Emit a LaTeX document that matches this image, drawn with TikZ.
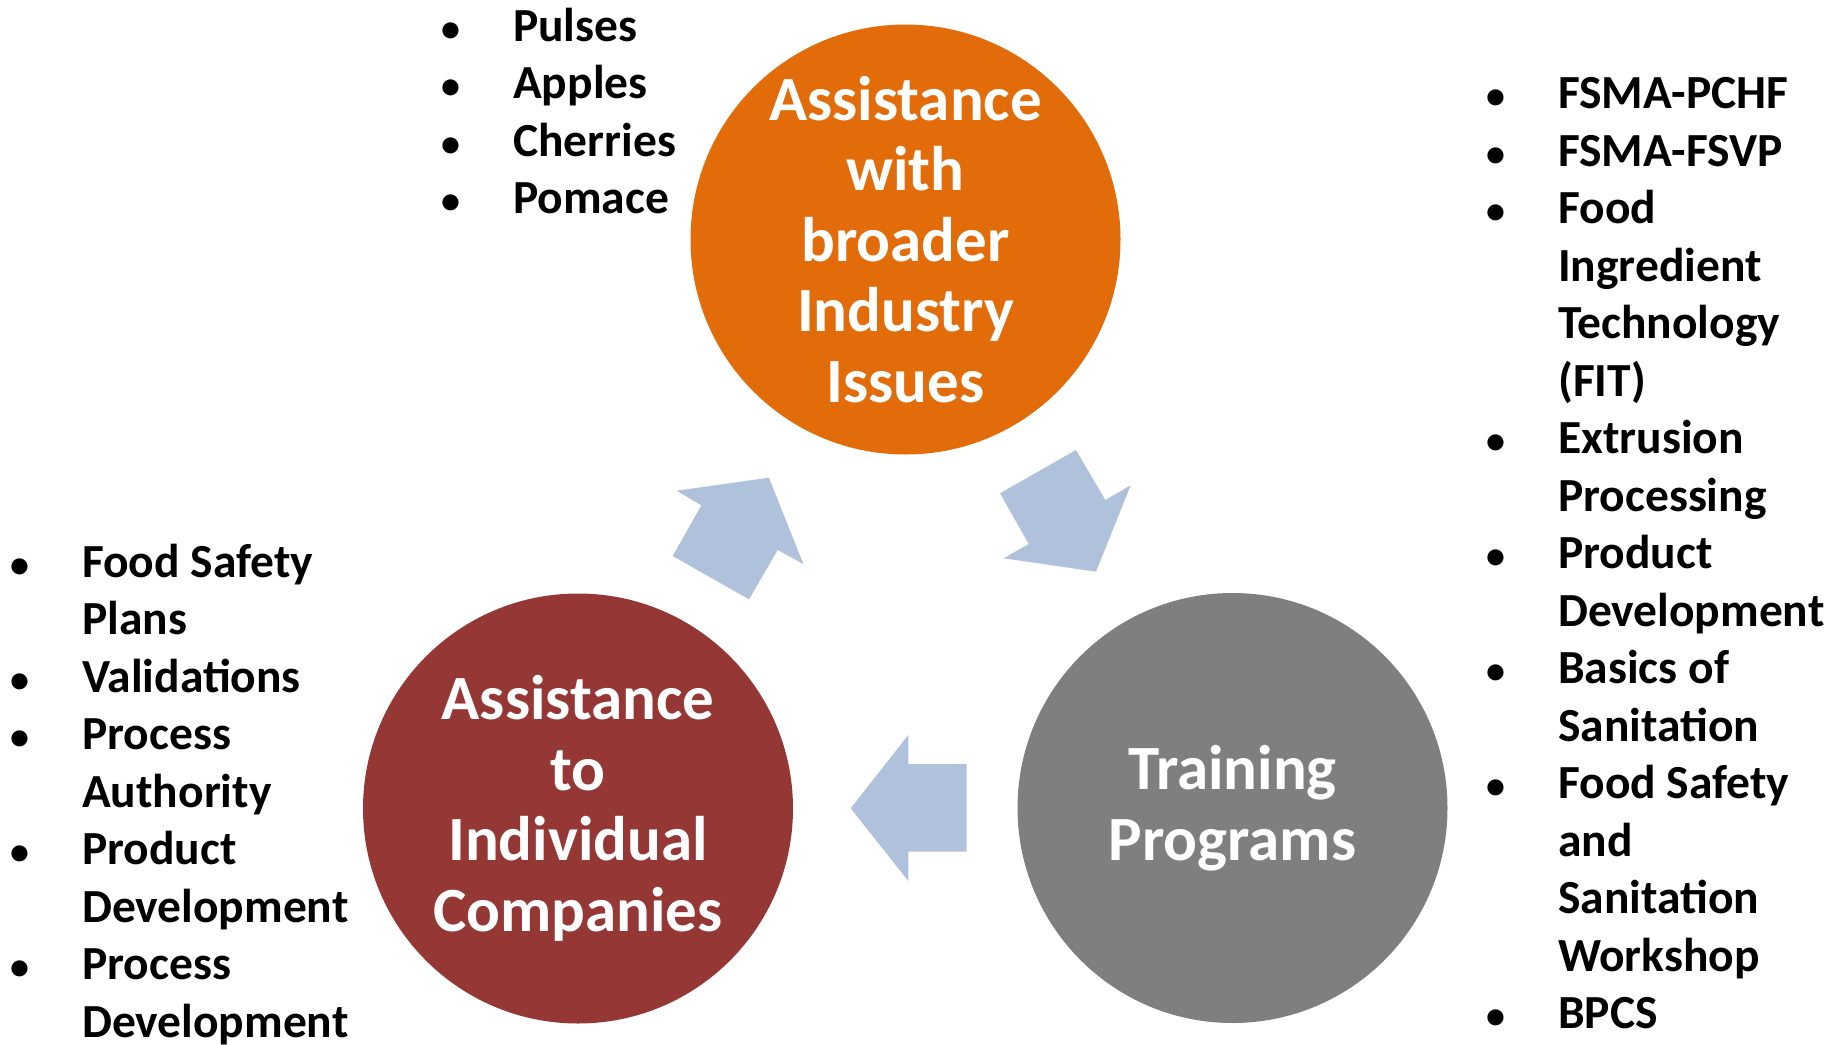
\documentclass[tikz,border=0pt]{standalone}
\usepackage{fontspec}
\setmainfont{Carlito}
\usepackage{tikz}

\definecolor{orng}{RGB}{227,108,10}
\definecolor{dkred}{RGB}{149,55,53}
\definecolor{gry}{RGB}{127,127,127}
\definecolor{arw}{RGB}{176,193,219}

\newcommand{\bl}{\makebox[71.5pt][l]{\scalebox{0.8}{\textbullet}}}
\newcommand{\nb}{\hspace*{71.5pt}}

\begin{document}
\begin{tikzpicture}[x=1pt,y=-1pt]
\tikzset{hub/.style={circle,minimum size=430pt,inner sep=0pt,align=center,text=white,
  font=\bfseries\fontsize{63}{70.5}\selectfont}}
\tikzset{lst/.style={anchor=base west,inner sep=0pt,align=left,
  font=\bfseries\fontsize{47.5}{57.5}\selectfont}}
\useasboundingbox (0,0) rectangle (1841,1044);

\node[hub,fill=orng] (ind) at (905.5,239.5) {Assistance\\with\\broader\\Industry\\Issues};
\node[hub,fill=dkred] (comp) at (578,808.5) {Assistance\\to\\Individual\\Companies};
\node[hub,fill=gry] (train) at (1232.5,808) {Training\\Programs};

% arrows between the circles
\fill[arw] (769,477.7) -- (803.3,564) -- (777.7,550) -- (749,599.3)
  -- (672.7,556) -- (701.3,505.3) -- (676.7,490.7) -- cycle;
\fill[arw] (1096,571.7) -- (1003.7,558.3) -- (1028.7,544) -- (1000,493.3)
  -- (1076,450) -- (1105.3,500) -- (1130.7,485.3) -- cycle;
\fill[arw] (850.7,808.3) -- (908.3,735) -- (908.3,764) -- (966.7,764)
  -- (966.7,851.7) -- (908.3,851.7) -- (908.3,881) -- cycle;

% lists (anchored at the baseline of the last line)
\node[lst] (crops) at (441.5,213.5) {\bl Pulses\\\bl Apples\\\bl Cherries\\\bl Pomace};
\node[lst] (svc) at (10.5,1037) {\bl Food Safety\\\nb Plans\\\bl Validations\\\bl Process\\
  \nb Authority\\\bl Product\\\nb Development\\\bl Process\\\nb Development};
\node[lst] (course) at (1486.5,1028.5) {\bl FSMA-PCHF\\\bl FSMA-FSVP\\\bl Food\\\nb Ingredient\\
  \nb Technology\\\nb (FIT)\\\bl Extrusion\\\nb Processing\\\bl Product\\\nb Development\\
  \bl Basics of\\\nb Sanitation\\\bl Food Safety\\\nb and\\\nb Sanitation\\\nb Workshop\\\bl BPCS};
\end{tikzpicture}
\end{document}
